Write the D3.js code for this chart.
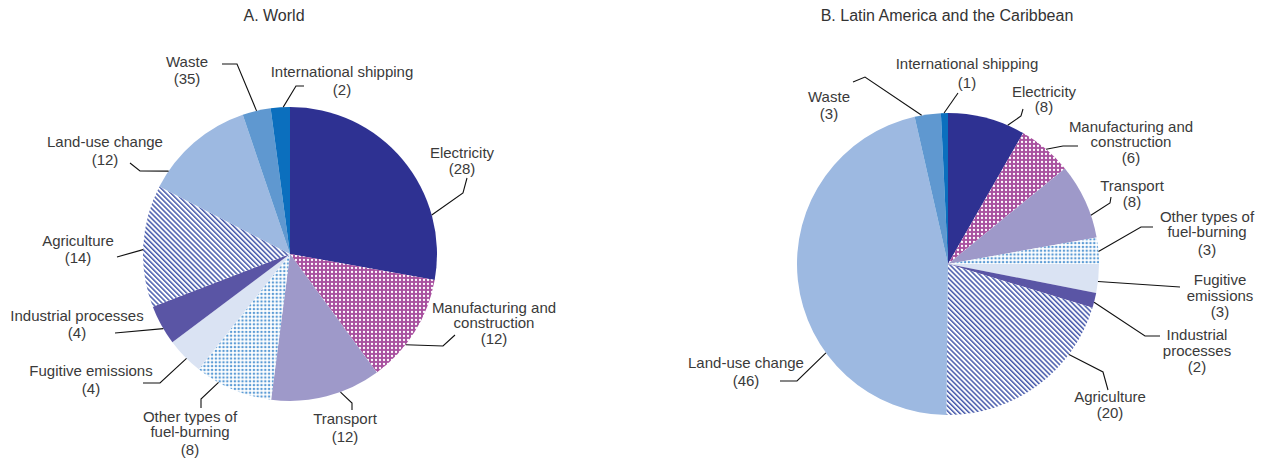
<!DOCTYPE html>
<html>
<head>
<meta charset="utf-8">
<script src="https://cdn.jsdelivr.net/npm/d3@7"></script>
<style>
  html, body { margin: 0; padding: 0; background: #fff; }
  svg { display: block; }
  .lbl { font-family: "Liberation Sans", Arial, sans-serif; font-size: 15px; fill: #3a3a3a; }
  .title { font-family: "Liberation Sans Narrow", "Arial Narrow", "Liberation Sans", sans-serif; font-size: 16px; fill: #333; }
</style>
</head>
<body>
<script>
// ---------------- data ----------------
const categories = ["Electricity", "Manufacturing and construction", "Transport",
  "Other types of fuel-burning", "Fugitive emissions", "Industrial processes",
  "Agriculture", "Land-use change", "Waste", "International shipping"];

// slice sizes (shares, %)
const worldValues = [27.8, 12.1, 12.1, 8.6, 4.1, 4.4, 13.4, 12.2, 3.1, 2.1];
const lacValues   = [8.3, 5.8, 8.1, 2.8, 3.1, 1.6, 20.5, 46.3, 2.8, 0.75];

// numbers printed in the labels
const worldLabels = ["28", "12", "12", "8", "4", "4", "14", "12", "35", "2"];
const lacLabels   = ["8", "6", "8", "3", "3", "2", "20", "46", "3", "1"];

const titles = ["A. World", "B. Latin America and the Caribbean"];

// label line breaks
const worldNames = ["Electricity", "Manufacturing and|construction", "Transport",
  "Other types of|fuel-burning", "Fugitive emissions", "Industrial processes",
  "Agriculture", "Land-use change", "Waste", "International shipping"];
const lacNames = ["Electricity", "Manufacturing and|construction", "Transport",
  "Other types of|fuel-burning", "Fugitive|emissions", "Industrial|processes",
  "Agriculture", "Land-use change", "Waste", "International shipping"];

// ---------------- styles / layout ----------------
const fills = ["#2E3192", "url(#pMfg)", "#9E99C9", "url(#pFuel)", "#DAE3F3",
  "#5A55A5", "url(#pAgri)", "#9DB9E1", "#5F98D0", "#0B6FBE"];

const worldLayout = [
  { t: .745, pts: [[463,193],[467,178]], x: 462, ys: [153,169] },
  { t: .64,  pts: [[443,346],[455,335]], x: 494, ys: [308,323,339] },
  { t: .37,  pts: [[352,403],[352,410]], x: 345, ys: [419,437] },
  { t: .70,  pts: [[201,399],[201,408]], x: 190, ys: [417,432,450] },
  { t: .43,  pts: [[160,383],[143,383]], x: 91,  ys: [371,389] },
  { t: .40,  pts: [[115,333]],           x: 77,  ys: [316,333] },
  { t: .47,  pts: [[117,257]],           x: 78,  ys: [241,258] },
  { t: .16,  pts: [[140,171],[130,163]], x: 105, ys: [142,160] },
  { t: .50,  pts: [[237,64],[222,64]],   x: 187, ys: [62,79] },
  { t: .65,  pts: [[296,86],[304,86]],   x: 342, ys: [72,90] }
];
const lacLayout = [
  { t: .78, pts: [[1021,116],[1023,109]], x: 1044, ys: [92,107] },
  { t: .51, pts: [[1063,146],[1078,146]], x: 1131, ys: [127,142,158] },
  { t: .70, pts: [[1110,203],[1111,197]], x: 1132, ys: [186,202] },
  { t: .53, pts: [[1141,227],[1153,227]], x: 1207, ys: [217,232,250] },
  { t: .60, pts: [[1180,287]],            x: 1220, ys: [280,296,312] },
  { t: .62, pts: [[1145,336],[1160,336]], x: 1197, ys: [335,351,367] },
  { t: .27, pts: [[1103,372],[1108,390]], x: 1110, ys: [397,413] },
  { t: .32, pts: [[797,381],[780,381]],   x: 746,  ys: [363,381] },
  { t: .27, pts: [[865,77],[853,82]],     x: 829,  ys: [97,114] },
  { t: .45, pts: [[958,93]],              x: 967,  ys: [64,83] }
];

const W = 1266, H = 463;
const svg = d3.select("body").append("svg").attr("width", W).attr("height", H);

// ---------------- patterns ----------------
const defs = svg.append("defs");
const pM = defs.append("pattern").attr("id", "pMfg").attr("patternUnits", "userSpaceOnUse")
  .attr("width", 4).attr("height", 4);
pM.append("rect").attr("width", 4).attr("height", 4).attr("fill", "#A8509F");
pM.append("circle").attr("cx", 2).attr("cy", 2).attr("r", 1.15).attr("fill", "#fff");

const pF = defs.append("pattern").attr("id", "pFuel").attr("patternUnits", "userSpaceOnUse")
  .attr("width", 3.8).attr("height", 3.8);
pF.append("rect").attr("width", 3.8).attr("height", 3.8).attr("fill", "#fff");
pF.append("circle").attr("cx", 1.9).attr("cy", 1.9).attr("r", 1.25).attr("fill", "#5B9BD5");

const pA = defs.append("pattern").attr("id", "pAgri").attr("patternUnits", "userSpaceOnUse")
  .attr("width", 3.5).attr("height", 10).attr("patternTransform", "rotate(-45)");
pA.append("rect").attr("width", 3.5).attr("height", 10).attr("fill", "#fff");
pA.append("rect").attr("width", 1.5).attr("height", 10).attr("fill", "#4659AB");

// ---------------- draw ----------------
function drawPie(cfg) {
  const { cx, cy, r, values, nums, names, layout, title, titleX } = cfg;
  const data = values.map((v, i) => ({ v, i }));
  const pie = d3.pie().sort(null).value(d => d.v);
  const arc = d3.arc().innerRadius(0).outerRadius(r);
  const arcs = pie(data);

  const g = svg.append("g").attr("transform", `translate(${cx},${cy})`);
  g.selectAll("path").data(arcs).join("path")
    .attr("d", arc)
    .attr("fill", d => fills[d.data.i]);

  // leaders
  const line = d3.line();
  arcs.forEach(d => {
    const L = layout[d.data.i];
    const a = d.startAngle + L.t * (d.endAngle - d.startAngle);
    const anchor = [cx + r * Math.sin(a), cy - r * Math.cos(a)];
    svg.append("path")
      .attr("d", line([anchor, ...L.pts]))
      .attr("fill", "none")
      .attr("stroke", "#111")
      .attr("stroke-width", 1.1);
  });

  // labels
  arcs.forEach(d => {
    const i = d.data.i;
    const L = layout[i];
    const lines = names[i].split("|").concat([`(${nums[i]})`]);
    const t = svg.append("text").attr("class", "lbl").attr("text-anchor", "middle");
    lines.forEach((s, k) => {
      t.append("tspan").attr("x", L.x).attr("y", L.ys[k]).attr("dy", "0.35em").text(s);
    });
  });

  svg.append("text").attr("class", "title").attr("text-anchor", "middle")
    .attr("x", titleX).attr("y", 15).attr("dy", "0.35em").text(title);
}

drawPie({ cx: 290, cy: 254, r: 147, values: worldValues, nums: worldLabels,
  names: worldNames, layout: worldLayout, title: titles[0], titleX: 274 });
drawPie({ cx: 948, cy: 264, r: 151, values: lacValues, nums: lacLabels,
  names: lacNames, layout: lacLayout, title: titles[1], titleX: 947 });
</script>
</body>
</html>
